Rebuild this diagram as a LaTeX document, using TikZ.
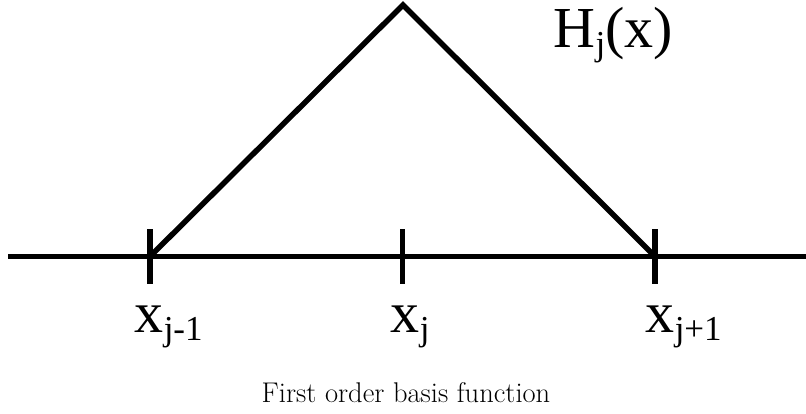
\documentclass[tikz,border=0pt]{standalone}
\usepackage{fontspec}
\newfontfamily\timesfont{Liberation Serif}
\usetikzlibrary{positioning}

\newcommand{\sublbl}[2]{#1\raisebox{-8pt}{\fontsize{35}{35}\selectfont #2}}

\begin{document}
\begin{tikzpicture}[x=1pt,y=1pt,line width=5.5pt,line join=miter,
  lbl/.style={font=\timesfont\fontsize{58}{60}\selectfont,inner sep=0pt,anchor=base west}]

  \useasboundingbox (0,0) rectangle (806,413);

  % Eje
  \coordinate (left) at (8,156.5);
  \coordinate (right) at (806,156.5);
  \coordinate (xa) at (150,156.5);
  \coordinate (xb) at (402.5,156.5);
  \coordinate (xc) at (655,156.5);
  \coordinate (top) at (403,408);
  \draw (left) -- (right);

  % Marcas
  \foreach \p in {xa,xb,xc}
    \draw ([yshift=27.5pt]\p) -- ([yshift=-27.5pt]\p);

  % Funcion
  \draw (xa) -- (top) -- (xc);

  % Etiquetas
  \node[lbl] (la) at (132,81) {\sublbl{x}{j-1}};
  \node[lbl] (lb) at (388,81) {\sublbl{x}{j}};
  \node[lbl] (lc) at (643,81) {\sublbl{x}{j+1}};
  \node[lbl] (hj) at (551,365) {\sublbl{H}{j}(x)};

  \node[font=\fontsize{28.5}{32}\selectfont,anchor=base] (cap) at (406,11) {First order basis function};

\end{tikzpicture}
\end{document}
